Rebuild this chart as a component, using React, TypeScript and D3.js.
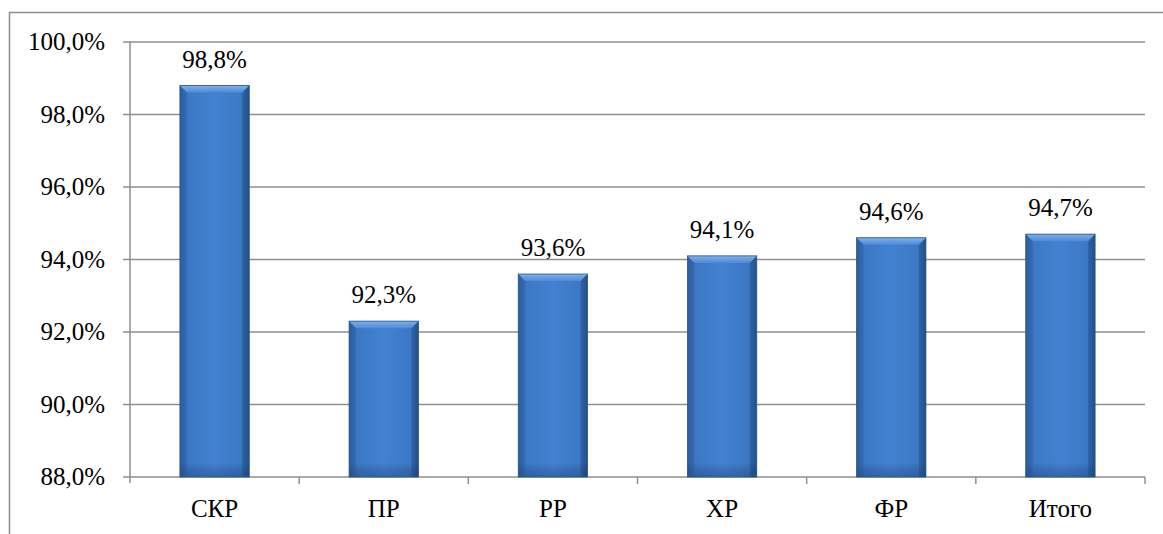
import React from 'react';
import * as d3 from 'd3';

const categories = ['СКР', 'ПР', 'РР', 'ХР', 'ФР', 'Итого'];
const values = [98.8, 92.3, 93.6, 94.1, 94.6, 94.7];
const yTicks = [88, 90, 92, 94, 96, 98, 100];

const W = 1163;
const H = 534;
const margin = { left: 130, right: 18, top: 42, bottom: 57 };

const fmt = (v: number, digits: number) => v.toFixed(digits).replace('.', ',') + '%';

const App: React.FC = () => {
  const x = d3.scaleBand<string>()
    .domain(categories)
    .range([margin.left, W - margin.right])
    .paddingInner(0.59)
    .paddingOuter(0.295);

  const y = d3.scaleLinear()
    .domain([88, 100])
    .range([H - margin.bottom, margin.top]);

  const band = (W - margin.right - margin.left) / categories.length;
  const font = "'Liberation Serif', 'DejaVu Serif', serif";
  const fs = 25;
  const bw = x.bandwidth();
  const bev = 7;

  return (
    <svg width={W} height={H} style={{ position: 'absolute', left: 0, top: 0, fontFamily: font }}>
      <defs>
        <linearGradient id="barGrad" x1="0" x2="1" y1="0" y2="0">
          <stop offset="0" stopColor="#2c5c9c" />
          <stop offset="0.12" stopColor="#3c78c4" />
          <stop offset="0.5" stopColor="#4282d2" />
          <stop offset="0.88" stopColor="#3c78c4" />
          <stop offset="1" stopColor="#26548f" />
        </linearGradient>
        <linearGradient id="bevelGrad" x1="0" x2="0" y1="0" y2="1">
          <stop offset="0" stopColor="#7fb0ea" />
          <stop offset="1" stopColor="#4f8ad6" />
        </linearGradient>
        <linearGradient id="bottomGrad" x1="0" x2="0" y1="0" y2="1">
          <stop offset="0" stopColor="#000" stopOpacity="0" />
          <stop offset="1" stopColor="#0a2a5a" stopOpacity="0.3" />
        </linearGradient>
      </defs>
      <rect x={0} y={0} width={W} height={H} fill="#fff" />
      {/* outer frame */}
      <path d={`M9.5,${H} V12.5 H${W}`} fill="none" stroke="#8c8c8c" strokeWidth={1.5} />

      {/* grid */}
      {yTicks.map(t => (
        <line key={t} x1={margin.left - 7} x2={W - margin.right} y1={y(t)} y2={y(t)}
          stroke="#8f8f8f" strokeWidth={1.5} />
      ))}
      <line x1={margin.left} x2={margin.left} y1={margin.top} y2={y(88) + 6} stroke="#8f8f8f" strokeWidth={1.5} />
      {categories.map((c, i) => (
        <line key={c} x1={margin.left + band * (i + 1)} x2={margin.left + band * (i + 1)}
          y1={y(88)} y2={y(88) + 7} stroke="#8f8f8f" strokeWidth={1.5} />
      ))}

      {yTicks.map(t => (
        <text key={t} x={105} y={y(t)} dy="0.33em" textAnchor="end"
          fontFamily={font} fontSize={fs} fill="#000">{fmt(t, 1)}</text>
      ))}

      {categories.map((c, i) => {
        const bx = x(c)!;
        const by = y(values[i]);
        const bh = y(88) - by;
        return (
          <g key={c}>
            <rect x={bx} y={by} width={bw} height={bh} fill="url(#barGrad)" />
            <rect x={bx} y={by + bh - 14} width={bw} height={14} fill="url(#bottomGrad)" />
            <polygon points={`${bx},${by} ${bx + bw},${by} ${bx + bw - bev},${by + bev} ${bx + bev},${by + bev}`}
              fill="url(#bevelGrad)" />
            <polygon points={`${bx},${by} ${bx + bev},${by + bev} ${bx + bev},${by + bh} ${bx},${by + bh}`}
              fill="#2d5e9f" opacity={0.3} />
            <polygon points={`${bx + bw},${by} ${bx + bw - bev},${by + bev} ${bx + bw - bev},${by + bh} ${bx + bw},${by + bh}`}
              fill="#1c457c" opacity={0.3} />
            <rect x={bx} y={by} width={bw} height={bh} fill="none" stroke="#2a5694" strokeWidth={0.8} />
            <text x={bx + bw / 2} y={by - 18} textAnchor="middle" fontFamily={font} fontSize={fs} fill="#000">
              {fmt(values[i], 1)}
            </text>
            <text x={margin.left + band * (i + 0.5)} y={y(88) + 40} textAnchor="middle"
              fontFamily={font} fontSize={fs} fill="#000">{c}</text>
          </g>
        );
      })}
    </svg>
  );
};

export default App;
